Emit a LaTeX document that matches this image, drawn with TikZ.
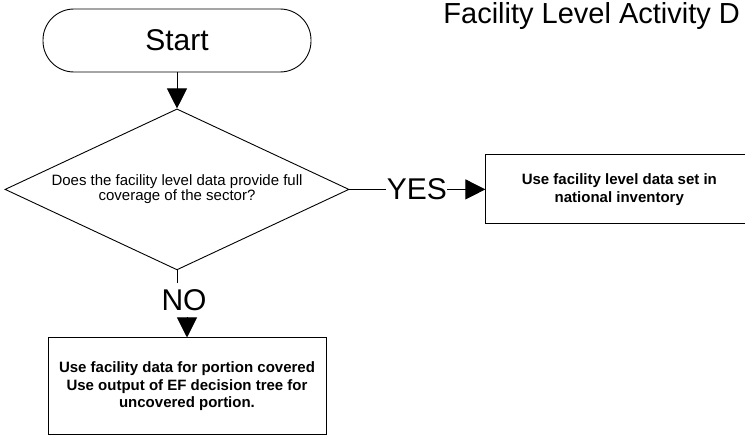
\documentclass[tikz,border=0pt]{standalone}
\usepackage{fontspec}
\setmainfont{Liberation Sans}
\usetikzlibrary{arrows.meta}
\usetikzlibrary{shapes.geometric, positioning}

\begin{document}
\begin{tikzpicture}[line width=0.9pt, >={Triangle[length=20pt,width=20pt]}, font=\fontsize{15}{15}\selectfont]
			\useasboundingbox (0,0) rectangle (745pt,-436pt);
			\clip (0,0) rectangle (745pt,-436pt);
			
			\node[anchor=base west, inner sep=0pt, font=\fontsize{29}{34}\selectfont] (title) at (443pt,-24pt) {Facility Level Activity D};
			
			\node[draw, rounded corners=31pt, minimum width=268pt, minimum height=63pt, font=\fontsize{30}{36}\selectfont] (start) at (177pt,-40.5pt) {Start};
			\node[draw, diamond, shape aspect=2.14, inner sep=2pt, minimum width=344pt, minimum height=161pt, align=center] (question) [below = 36pt of start] {Does the facility level data provide full\\coverage of the sector?};
			
			\node[inner sep=0pt, font=\fontsize{30}{36}\selectfont] (yes) [right = 37pt of question] {YES};
			\node[draw, minimum width=267pt, minimum height=69pt, align=center, font=\fontsize{15}{18}\selectfont\bfseries] (national) [right = 38pt of yes] {Use facility level data set in\\national inventory};
			
			\node[inner sep=0pt, font=\fontsize{30}{36}\selectfont] (no) [below = 19pt of question, xshift=7pt] {NO};
			\node[draw, minimum width=278pt, minimum height=97pt, align=center, font=\fontsize{15}{17.5}\selectfont\bfseries] (portion) [below = 26pt of no, xshift=3pt] {Use facility data for portion covered\\Use output of EF decision tree for\\uncovered portion.};
			
			\draw[->] (start) -- (question);
			
			\draw (question.east) -- (yes.west);
			\draw[->] (yes.east) -- (national.west);
			
			\draw[shorten >=6pt] (question.south) -- (question.south |- no.north);
			\draw[->, shorten <=6pt] (no.south -| portion.north) -- (portion.north);
			\end{tikzpicture}
\end{document}
